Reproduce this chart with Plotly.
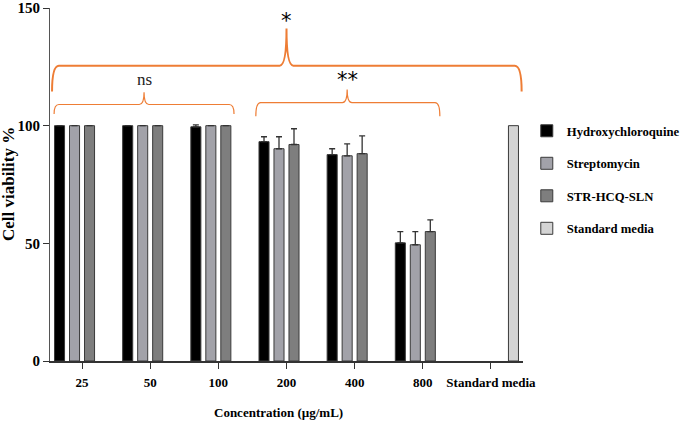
import plotly.graph_objects as go

categories = ["25", "50", "100", "200", "400", "800", "Standard media"]
hcq = [100, 100, 99.5, 93.2, 87.7, 50.2, None]
hcq_err = [0, 0, 0.8, 2.1, 2.5, 4.8, 0]
strep = [100, 100, 100, 90.2, 87.2, 49.4, None]
strep_err = [0, 0, 0, 5.1, 5.1, 5.6, 0]
sln = [100, 100, 100, 92.0, 88.1, 55.0, None]
sln_err = [0, 0, 0, 6.7, 7.6, 5.0, 0]
std_media = [None, None, None, None, None, None, 100]

series = [
    ("Hydroxychloroquine", hcq, hcq_err, "#000000"),
    ("Streptomycin", strep, strep_err, "#a2a2a9"),
    ("STR-HCQ-SLN", sln, sln_err, "#7e7e7e"),
    ("Standard media", std_media, None, "#d4d4d4"),
]

xs = list(range(len(categories)))
SERIF = "Liberation Serif"
ORANGE = "#ee7d35"

fig = go.Figure()
for i, (name, vals, err, col) in enumerate(series):
    kw = {}
    if err is not None:
        kw["error_y"] = dict(type="data", array=err, arrayminus=[0] * len(err),
                             symmetric=False, color="#333333", thickness=1.3, width=3)
    fig.add_trace(go.Bar(
        x=xs, y=vals, name=name, marker=dict(color=col, line=dict(color="#3a3a3a", width=1)),
        legendgroup=name, **kw))


def brace(x0, x1, xm, ybase, yend, ypeak, dx=0.07):
    return (f"M {x0},{yend} Q {x0},{ybase} {x0+dx},{ybase} "
            f"L {xm-dx},{ybase} Q {xm},{ybase} {xm},{ypeak} "
            f"Q {xm},{ybase} {xm+dx},{ybase} "
            f"L {x1-dx},{ybase} Q {x1},{ybase} {x1},{yend}")


shapes = [
    dict(type="path", xref="x", yref="y", path=brace(-0.44, 6.45, 3.0, 125.5, 114.5, 141.3, dx=0.1),
         line=dict(color=ORANGE, width=2)),
    dict(type="path", xref="x", yref="y", path=brace(-0.41, 2.23, 0.91, 109.0, 105.0, 114.2),
         line=dict(color=ORANGE, width=1.2)),
    dict(type="path", xref="x", yref="y", path=brace(2.55, 5.25, 3.89, 109.8, 104.0, 115.4),
         line=dict(color=ORANGE, width=1.2)),
]

annotations = [
    dict(x=3.0, y=144.5, xref="x", yref="y", text="*", showarrow=False,
         font=dict(family="DejaVu Sans", size=21, color="#000")),
    dict(x=0.91, y=119.5, xref="x", yref="y", text="ns", showarrow=False,
         font=dict(family=SERIF, size=17, color="#222")),
    dict(x=3.89, y=119.5, xref="x", yref="y", text="**", showarrow=False,
         font=dict(family="DejaVu Sans", size=21, color="#000")),
    dict(x=-0.089, y=0.501, xref="paper", yref="paper", text="Cell viability %", textangle=-90,
         xanchor="center", yanchor="middle", showarrow=False,
         font=dict(family=SERIF, size=17, color="#000", weight="bold")),
    dict(x=0.484, y=-0.147, xref="paper", yref="paper", text="Concentration (µg/mL)",
         xanchor="center", yanchor="middle", showarrow=False,
         font=dict(family=SERIF, size=13, color="#000", weight="bold")),
]

fig.update_layout(
    width=685, height=424,
    margin=dict(l=50, r=162, t=8, b=63, autoexpand=False),
    plot_bgcolor="white", paper_bgcolor="white",
    barmode="group", bargap=0.12, bargroupgap=0.33,
    showlegend=True,
    legend=dict(x=1.008, y=0.694, xanchor="left", yanchor="top",
                font=dict(family=SERIF, size=12.7, color="#000", weight="bold"),
                tracegroupgap=13, traceorder="grouped", bgcolor="rgba(0,0,0,0)"),
    shapes=shapes, annotations=annotations,
    xaxis=dict(range=[-0.47, 6.47], tickvals=xs, ticktext=categories, showline=True,
               linecolor="#333", linewidth=1.5, ticks="outside", ticklen=6, tickcolor="#333",
               tickwidth=1.3, showgrid=False, zeroline=False, automargin=False,
               ticklabelstandoff=3,
               tickfont=dict(family=SERIF, size=13, color="#000", weight="bold")),
    yaxis=dict(range=[0, 150], tickvals=[0, 50, 100, 150], showline=True,
               linecolor="#555", linewidth=1.2, ticks="outside", ticklen=6, tickcolor="#333",
               tickwidth=1.3, showgrid=False, zeroline=False, automargin=False,
               tickfont=dict(family=SERIF, size=15, color="#000", weight="bold")),
)

fig.write_html("out.html", config={"displayModeBar": False},
               post_script="document.body.style.margin='0';")
